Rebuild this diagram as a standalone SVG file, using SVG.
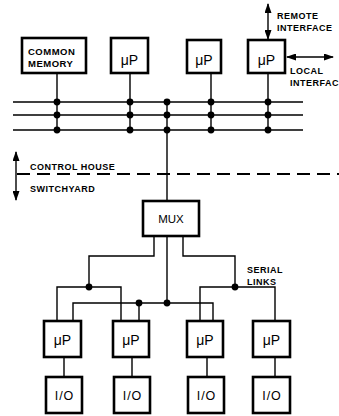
<svg xmlns="http://www.w3.org/2000/svg" width="339" height="416" viewBox="0 0 339 416">
<defs>
<style>
.box{fill:#fff;stroke:#000;stroke-width:2.6}
.ln{fill:none;stroke:#000;stroke-width:1.4}
.dash{fill:none;stroke:#000;stroke-width:1.8;stroke-dasharray:13 7}
.lbl{font-family:"Liberation Sans",Arial,sans-serif;font-weight:bold;font-size:9px;letter-spacing:0.5px;fill:#000}
.up{font-family:"Liberation Sans",Arial,sans-serif;font-size:14px;fill:#000;text-anchor:middle}
.io{font-family:"Liberation Sans",Arial,sans-serif;font-size:12.5px;fill:#000;text-anchor:middle;letter-spacing:1px}
.mux{font-family:"Liberation Sans",Arial,sans-serif;font-size:11.5px;fill:#000;text-anchor:middle}
.dot{fill:#000}
</style>
<marker id="ah" viewBox="0 0 10 7" refX="9" refY="3.5" markerWidth="10" markerHeight="7" markerUnits="userSpaceOnUse" orient="auto-start-reverse">
<path d="M0,0 L10,3.5 L0,7 Z" fill="#000"/>
</marker>
</defs>

<g id="connectors">
<path class="ln" d="M13 102 H303 M13 115 H303 M13 130 H303"/>
<path class="ln" d="M57 73 V130 M130 73 V130 M211 73 V130 M268 73 V130 M167 102 V201"/>
<g class="dot">
<circle cx="57" cy="102" r="3.4"/><circle cx="57" cy="115" r="3.4"/><circle cx="57" cy="130" r="3.4"/>
<circle cx="130" cy="102" r="3.4"/><circle cx="130" cy="115" r="3.4"/><circle cx="130" cy="130" r="3.4"/>
<circle cx="167" cy="102" r="3.4"/><circle cx="167" cy="115" r="3.4"/><circle cx="167" cy="130" r="3.4"/>
<circle cx="211" cy="102" r="3.4"/><circle cx="211" cy="115" r="3.4"/><circle cx="211" cy="130" r="3.4"/>
<circle cx="268" cy="102" r="3.4"/><circle cx="268" cy="115" r="3.4"/><circle cx="268" cy="130" r="3.4"/>
</g>
<line class="ln" x1="268" y1="4" x2="268" y2="39" marker-start="url(#ah)" marker-end="url(#ah)"/>
<line class="ln" x1="287" y1="57" x2="333" y2="57" marker-start="url(#ah)" marker-end="url(#ah)"/>
<line class="dash" x1="17" y1="174" x2="339" y2="174"/>
<line class="ln" x1="16" y1="152" x2="16" y2="200" stroke-width="1.8" marker-start="url(#ah)" marker-end="url(#ah)"/>
<path class="ln" d="M154 236 V256 H89 V287"/>
<path class="ln" d="M57 321 V287 H121 V321"/>
<path class="ln" d="M167 236 V303"/>
<path class="ln" d="M73 321 V303 H213 V321"/>
<path class="ln" d="M139 303 V321"/>
<path class="ln" d="M183 236 V256 H235 V287"/>
<path class="ln" d="M200 321 V287 H275 V321"/>
<g class="dot">
<circle cx="89" cy="287" r="3.4"/><circle cx="139" cy="303" r="3.4"/><circle cx="167" cy="303" r="3.4"/><circle cx="235" cy="287" r="3.4"/>
</g>
<path class="ln" d="M64 357 V377 M132 357 V377 M207 357 V377 M275 357 V377"/>
</g>

<g id="common-memory"><rect class="box" x="22" y="38" width="64" height="35"/>
<text class="lbl" x="28" y="55" style="font-size:9.5px">COMMON</text><text class="lbl" x="28" y="67" style="font-size:9.5px">MEMORY</text></g>
<g id="up1"><rect class="box" x="111" y="38" width="37" height="35"/><text class="up" x="129.5" y="65">μP</text></g>
<g id="up2"><rect class="box" x="187" y="40" width="34" height="33"/><text class="up" x="204" y="65">μP</text></g>
<g id="up3"><rect class="box" x="248" y="40" width="37" height="33"/><text class="up" x="266.5" y="65">μP</text></g>

<g id="labels">
<text class="lbl" x="277" y="19">REMOTE</text>
<text class="lbl" x="277" y="31">INTERFACE</text>
<text class="lbl" x="290" y="74">LOCAL</text>
<text class="lbl" x="290" y="86">INTERFAC</text>
<text class="lbl" x="30" y="170">CONTROL HOUSE</text>
<text class="lbl" x="30" y="192">SWITCHYARD</text>
<text class="lbl" x="247" y="273">SERIAL</text>
<text class="lbl" x="247" y="285">LINKS</text>
</g>

<g id="mux"><rect class="box" x="143" y="201" width="56" height="35"/><text class="mux" x="171" y="223">MUX</text></g>

<g id="up-a"><rect class="box" x="44" y="321" width="37" height="36"/><text class="up" x="62.5" y="345">μP</text></g>
<g id="up-b"><rect class="box" x="113" y="321" width="36" height="36"/><text class="up" x="131" y="345">μP</text></g>
<g id="up-c"><rect class="box" x="187" y="321" width="36" height="36"/><text class="up" x="205" y="345">μP</text></g>
<g id="up-d"><rect class="box" x="253" y="321" width="37" height="36"/><text class="up" x="271.5" y="345">μP</text></g>

<g id="io-a"><rect class="box" x="46" y="377" width="36" height="36"/><text class="io" x="64.5" y="400">I/O</text></g>
<g id="io-b"><rect class="box" x="114" y="377" width="36" height="36"/><text class="io" x="132.5" y="400">I/O</text></g>
<g id="io-c"><rect class="box" x="188" y="377" width="36" height="36"/><text class="io" x="206.5" y="400">I/O</text></g>
<g id="io-d"><rect class="box" x="253" y="377" width="37" height="36"/><text class="io" x="272" y="400">I/O</text></g>
</svg>
